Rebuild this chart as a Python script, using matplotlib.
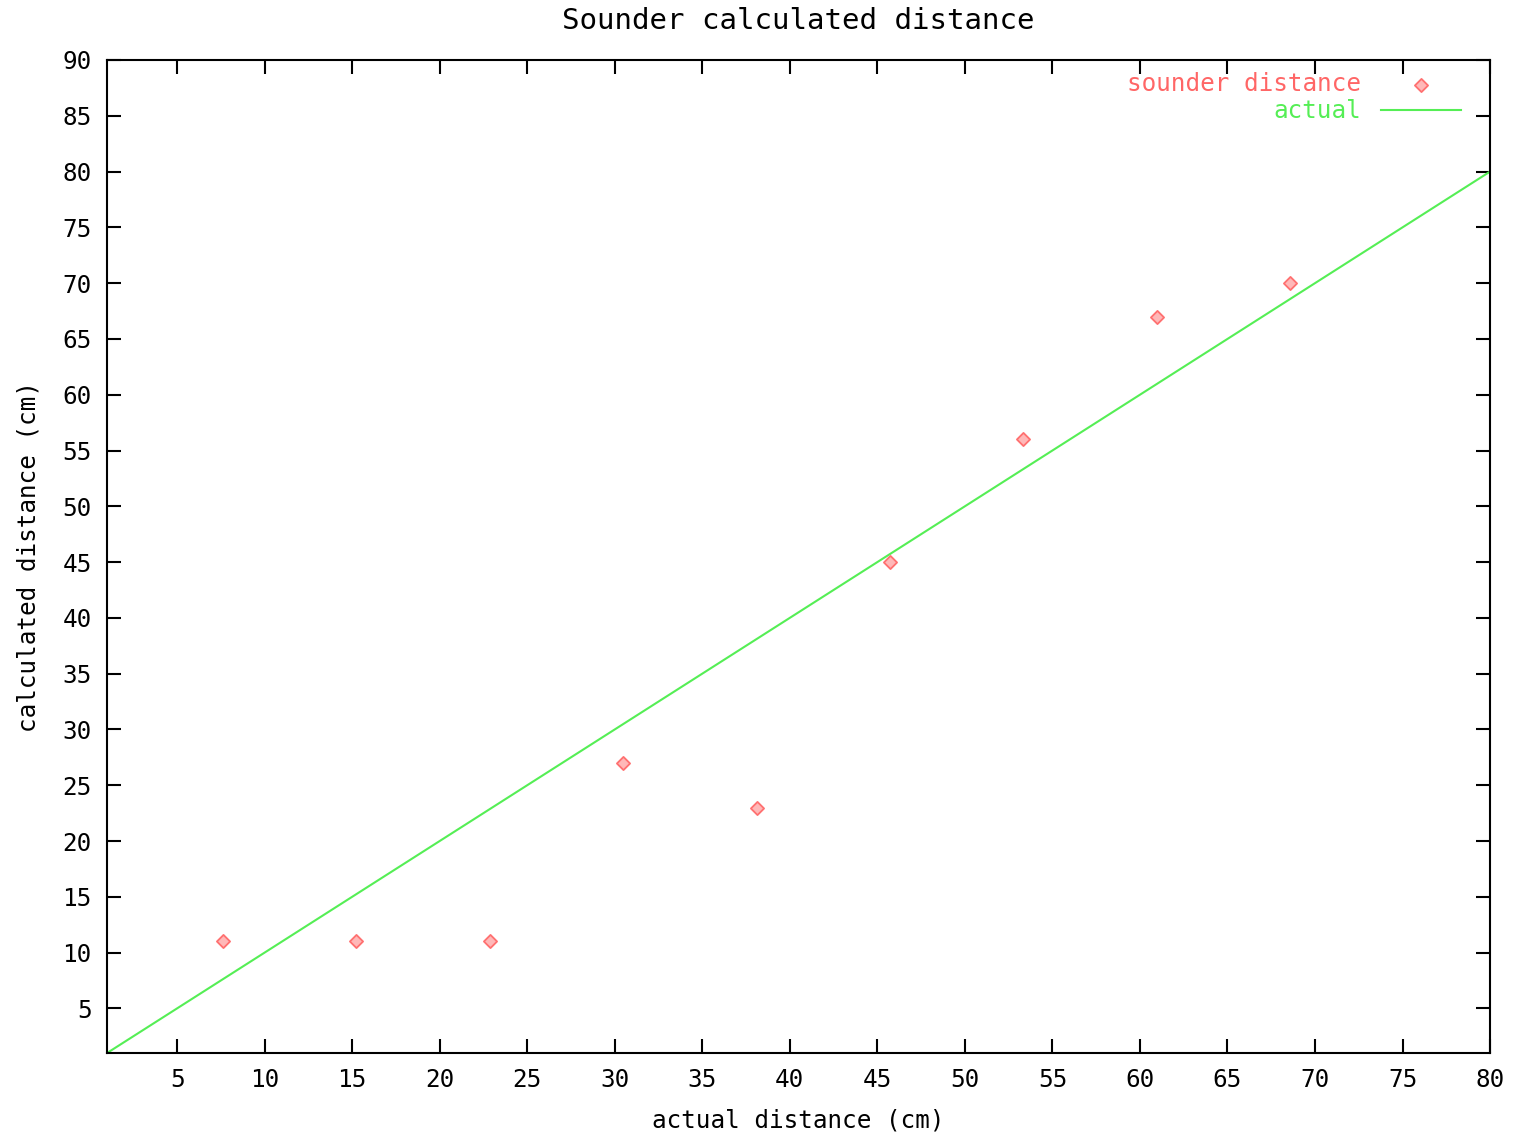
import numpy as np
import matplotlib
matplotlib.use("Agg")
import matplotlib.pyplot as plt

# measured points (actual distance in cm vs sounder reading)
actual_cm = [7.62, 15.24, 22.86, 30.48, 38.1, 45.72, 53.34, 60.96, 68.58]
sounder_cm = [11, 11, 11, 27, 23, 45, 56, 67, 70]
line_x = [1, 80]
line_y = [1, 80]

x_ticks = list(range(5, 81, 5))
y_ticks = list(range(5, 91, 5))

red = "#ff6666"
green = "#55ee55"

plt.rcParams['font.family'] = ['DejaVu Sans Mono']
plt.rcParams['font.size'] = 17.5

fig = plt.figure(figsize=(15.14, 11.34), dpi=100)
ax = fig.add_axes([0.0707, 0.0714, 0.9135, 0.8757])

ax.scatter(actual_cm, sounder_cm, marker='D', s=45, facecolors='#ffb8b8',
           edgecolors='#ff7070', linewidths=1.3, label='sounder distance', zorder=3)
ax.plot(line_x, line_y, color=green, lw=1.5, label='actual', zorder=2)

ax.set_xlim(1, 80)
ax.set_ylim(1, 90)
ax.set_xticks(x_ticks)
ax.set_yticks(y_ticks)
ax.tick_params(direction='in', length=10, width=1.5, top=True, right=True,
               labeltop=False, labelright=False, pad=11)
for sp in ax.spines.values():
    sp.set_linewidth(1.5)

ax.set_title('Sounder calculated distance', pad=22)
ax.set_xlabel('actual distance (cm)', labelpad=12)
ax.set_ylabel('calculated distance (cm)', labelpad=16)

leg = ax.legend(loc='upper right', bbox_to_anchor=(1.0, 1.017), frameon=False,
                markerfirst=False, scatterpoints=1, handlelength=3.3,
                borderpad=0.3, borderaxespad=0.9, handletextpad=0.8,
                labelspacing=0.12)
for txt, col in zip(leg.get_texts(), [red, green]):
    txt.set_color(col)

fig.savefig('out.png', dpi=100)
